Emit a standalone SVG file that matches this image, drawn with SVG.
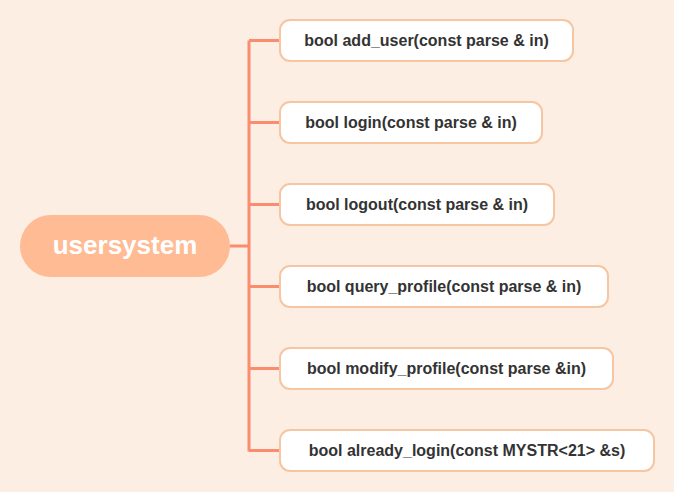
<svg xmlns="http://www.w3.org/2000/svg" width="674" height="492" viewBox="0 0 674 492">
<style>
.bg{fill:#fdeee3}
.root{fill:#ffbb93}
.rt{font-family:"Liberation Sans",Arial,sans-serif;font-weight:bold;font-size:26px;fill:#ffffff;text-anchor:middle}
.box{fill:#ffffff;stroke:#f6c6a2;stroke-width:2}
.t{font-family:"Liberation Sans",Arial,sans-serif;font-weight:bold;font-size:16px;fill:#333333;text-anchor:middle}
.ln{stroke:#fb8c6e;stroke-width:3;fill:none}
</style>
<rect class="bg" x="0" y="0" width="674" height="492"/>
<g id="connectors">
<path class="ln" d="M230 246H249M249 40.5V451.5M249 40.5H281M249 122.5H281M249 204.5H281M249 286.5H281M249 368.5H281M249 450.5H281"/>
</g>
<g id="root"><rect class="root" x="20" y="215" width="210" height="62" rx="31"/><text class="rt" x="125" y="254">usersystem</text></g>
<g id="n1"><rect class="box" x="280" y="20" width="293" height="41" rx="10"/><text class="t" x="426.5" y="46">bool add_user(const parse &amp; in)</text></g>
<g id="n2"><rect class="box" x="280" y="102" width="262" height="41" rx="10"/><text class="t" x="411" y="128">bool login(const parse &amp; in)</text></g>
<g id="n3"><rect class="box" x="280" y="184" width="274" height="41" rx="10"/><text class="t" x="417" y="210">bool logout(const parse &amp; in)</text></g>
<g id="n4"><rect class="box" x="280" y="266" width="328" height="41" rx="10"/><text class="t" x="444" y="292">bool query_profile(const parse &amp; in)</text></g>
<g id="n5"><rect class="box" x="280" y="348" width="333" height="41" rx="10"/><text class="t" x="446.5" y="374">bool modify_profile(const parse &amp;in)</text></g>
<g id="n6"><rect class="box" x="280" y="430" width="374" height="41" rx="10"/><text class="t" x="467" y="456">bool already_login(const MYSTR&lt;21&gt; &amp;s)</text></g>
</svg>
